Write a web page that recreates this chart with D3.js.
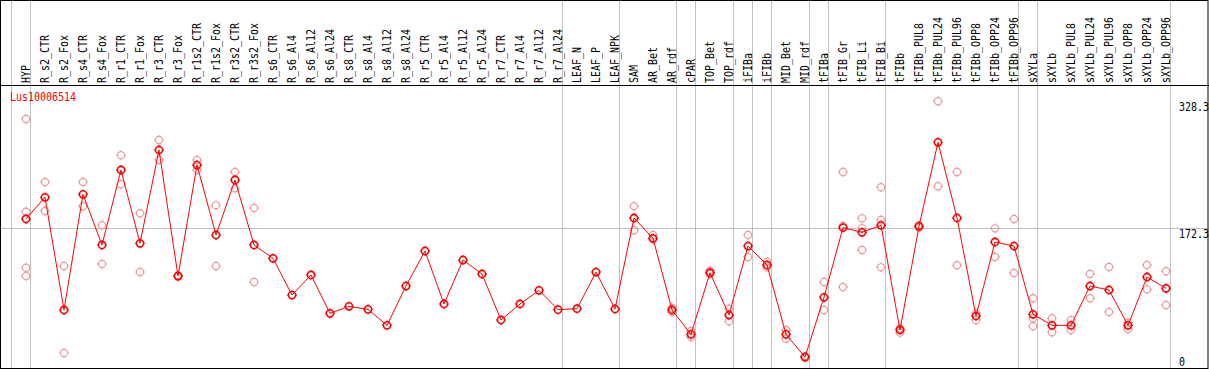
<!DOCTYPE html>
<html>
<head>
<meta charset="utf-8">
<script src="https://cdn.jsdelivr.net/npm/d3@7"></script>
<style>
  body { margin: 0; background: #fff; }
  svg { display: block; }
  text { font-family: "DejaVu Sans Mono", "Liberation Mono", monospace; }
</style>
</head>
<body>
<svg id="chart"></svg>
<script>
const width = 1209;
const height = 370;

const geneName = "Lus10006514";

const samples = ["HYP", "R_s2_CTR", "R_s2_Fox", "R_s4_CTR", "R_s4_Fox", "R_r1_CTR", "R_r1_Fox",
    "R_r3_CTR", "R_r3_Fox", "R_r1s2_CTR", "R_r1s2_Fox", "R_r3s2_CTR", "R_r3s2_Fox",
    "R_s6_CTR", "R_s6_Al4", "R_s6_Al12", "R_s6_Al24", "R_s8_CTR", "R_s8_Al4", "R_s8_Al12", "R_s8_Al24",
    "R_r5_CTR", "R_r5_Al4", "R_r5_Al12", "R_r5_Al24", "R_r7_CTR", "R_r7_Al4", "R_r7_Al12", "R_r7_Al24",
    "LEAF_N", "LEAF_P", "LEAF_NPK", "SAM", "AR_Bet", "AR_rdf", "cPAR", "TOP_Bet", "TOP_rdf",
    "iFIBa", "iFIBb", "MID_Bet", "MID_rdf", "tFIBa", "tFIB_Gr", "tFIB_Li", "tFIB_Bi", "tFIBb",
    "tFIBb_PUL8", "tFIBb_PUL24", "tFIBb_PUL96", "tFIBb_OPP8", "tFIBb_OPP24", "tFIBb_OPP96",
    "sXYLa", "sXYLb", "sXYLb_PUL8", "sXYLb_PUL24", "sXYLb_PUL96", "sXYLb_OPP8", "sXYLb_OPP24", "sXYLb_OPP96"];

const means = [183.4, 210.1, 71.4, 213.8, 151.4, 243.7, 153.5,
    268.3, 113.2, 249.8, 163.7, 231.4, 151.4,
    135.0, 89.8, 114.5, 67.3, 75.9, 72.2, 52.5, 100.9,
    144.0, 78.8, 132.9, 115.7, 59.1, 78.8, 95.6, 71.8,
    73.0, 118.1, 72.6, 184.6, 159.6, 71.4, 41.4, 117.3, 65.2,
    150.1, 126.8, 41.4, 13.5, 87.0, 172.7, 167.0, 175.6, 46.8,
    174.4, 277.8, 184.6, 64.0, 155.1, 150.1,
    66.1, 52.5, 52.5, 100.9, 96.0, 52.5, 112.0, 98.1];

const replicates = [[306.4, 192.4, 123.4, 113.2], [228.9, 193.2], [125.5, 18.5], [228.9, 199.0], [175.6, 128.0],
    [261.8, 226.1], [190.4, 118.1], [280.6, 256.0], [112.4, 114.0], [256.0, 243.7], [200.2, 125.5],
    [241.2, 221.1], [196.9, 105.8],
    [], [], [], [], [], [], [], [], [], [], [], [], [], [], [], [],
    [], [], [],
    [199.0, 184.2, 169.5], [163.7, 158.4], [73.8, 68.9], [45.5, 38.2], [119.8, 115.7], [73.0, 57.4],
    [163.7, 136.6], [130.8, 123.9], [46.8, 36.1], [14.5, 12.6], [105.8, 71.4],
    [241.2, 99.7, 174.8], [184.2, 145.2, 171.9], [222.4, 182.1, 123.9], [48.9, 43.5],
    [172.7, 175.6], [328.3, 223.6], [241.2, 126.4], [67.3, 59.1], [171.9, 136.6], [183.4, 116.9],
    [85.8, 51.3, 61.2], [61.2, 43.9], [59.1, 46.8], [115.7, 85.8], [124.3, 68.9], [55.8, 48.0],
    [126.8, 96.8], [119.0, 77.5]];

// a grey separator is drawn after each of these samples (plus one before the first)
const groupEnds = ["HYP", "R_r7_Al24", "LEAF_NPK", "AR_rdf", "cPAR", "TOP_rdf", "iFIBa", "iFIBb",
    "MID_rdf", "tFIBa", "tFIB_Bi", "tFIBb_OPP96", "sXYLa", "sXYLb_OPP96"];

const yTicks = [0, 172.3, 328.3];

const headerBottom = 85;
const plotBottom = 368;

const svg = d3.select("#chart").attr("width", width).attr("height", height);

const x = d3.scalePoint()
    .domain(samples)
    .range([26, 26 + 19 * (samples.length - 1)]);

const y = d3.scaleLinear()
    .domain([0, 172.3])
    .range([plotBottom, 228]);

const gridColor = "#c0c0c0";

// separators
const sepX = [x(samples[0]) - 14.5].concat(groupEnds.map(d => x(d) + 4.5));
svg.append("g")
    .selectAll("line")
    .data(sepX)
    .enter()
    .append("line")
    .attr("x1", d => d)
    .attr("x2", d => d)
    .attr("y1", 0)
    .attr("y2", plotBottom)
    .attr("stroke", gridColor)
    .attr("stroke-width", 1);

// middle gridline
svg.append("line")
    .attr("x1", 0)
    .attr("x2", width - 1)
    .attr("y1", Math.round(y(172.3)) + 0.5)
    .attr("y2", Math.round(y(172.3)) + 0.5)
    .attr("stroke", gridColor);

// frame
svg.append("rect")
    .attr("x", 0.5)
    .attr("y", 0.5)
    .attr("width", width - 1.5)
    .attr("height", plotBottom)
    .attr("fill", "none")
    .attr("stroke", "#000");

svg.append("line")
    .attr("x1", 0)
    .attr("x2", width)
    .attr("y1", headerBottom + 0.5)
    .attr("y2", headerBottom + 0.5)
    .attr("stroke", "#000");

// sample labels
svg.append("g")
    .selectAll("text")
    .data(samples)
    .enter()
    .append("text")
    .attr("transform", d => "translate(" + (x(d) - 0.5) + "," + (headerBottom - 2) + ") rotate(-90) scale(0.83,1)")
    .attr("dy", "0.36em")
    .attr("text-anchor", "start")
    .attr("font-size", 12)
    .attr("fill", "#000")
    .text(d => d);

// gene name
svg.append("text")
    .attr("transform", "translate(10,101) scale(0.83,1)")
    .attr("font-size", 12)
    .attr("fill", "#ff0000")
    .text(geneName);

// value labels on the right
svg.append("g")
    .selectAll("text")
    .data(yTicks)
    .enter()
    .append("text")
    .attr("transform", d => "translate(1179," + (d === 0 ? y(d) - 2 : y(d) + 10) + ") scale(0.83,1)")
    .attr("font-size", 12)
    .attr("fill", "#000")
    .text(d => d);

// marker with small rays
function marker(g, color, sw) {
    g.append("circle")
        .attr("r", 3.6)
        .attr("fill", "none")
        .attr("stroke", color)
        .attr("stroke-width", sw);
    g.append("path")
        .attr("d", "M0,-5V-3.5M0,3.5V5M-5,0H-3.5M3.5,0H5")
        .attr("stroke", color)
        .attr("stroke-width", 1);
}

// replicate points
const repPoints = [];
samples.forEach((s, i) => replicates[i].forEach(v => repPoints.push({ sample: s, value: v })));

svg.append("g")
    .selectAll("g")
    .data(repPoints)
    .enter()
    .append("g")
    .attr("transform", d => "translate(" + x(d.sample) + "," + y(d.value) + ")")
    .each(function () { marker(d3.select(this), "#ec9a9a", 1.2); });

// mean line
const line = d3.line()
    .x((d, i) => x(samples[i]))
    .y(d => y(d));

svg.append("path")
    .datum(means)
    .attr("d", line)
    .attr("fill", "none")
    .attr("stroke", "#ff0000")
    .attr("stroke-width", 1);

svg.append("g")
    .selectAll("g")
    .data(means)
    .enter()
    .append("g")
    .attr("transform", (d, i) => "translate(" + x(samples[i]) + "," + y(d) + ")")
    .each(function () { marker(d3.select(this), "#ff0000", 1.6); });
</script>
</body>
</html>
